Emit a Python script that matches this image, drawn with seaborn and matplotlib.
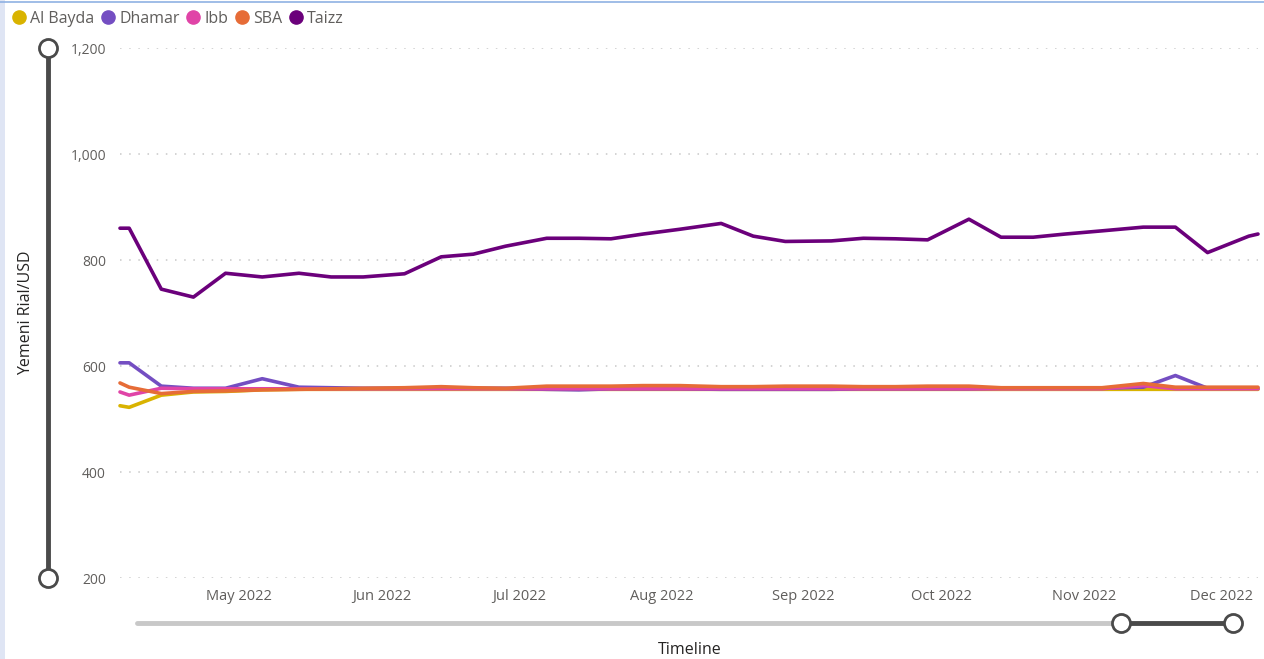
import pandas as pd
import seaborn as sns
import matplotlib.pyplot as plt
import matplotlib.dates as mdates
from matplotlib.lines import Line2D
from matplotlib.patches import Rectangle
from matplotlib.ticker import FuncFormatter

sns.set_style("white")
plt.rcParams['font.family'] = ['Open Sans', 'DejaVu Sans']

# weekly observation dates (2022)
dates = ["2022-04-05", "2022-04-07", "2022-04-14", "2022-04-21", "2022-04-28",
         "2022-05-06", "2022-05-14", "2022-05-21", "2022-05-28", "2022-06-06",
         "2022-06-14", "2022-06-21", "2022-06-28", "2022-07-07", "2022-07-14",
         "2022-07-21", "2022-07-28", "2022-08-05", "2022-08-14", "2022-08-21",
         "2022-08-28", "2022-09-07", "2022-09-14", "2022-09-21", "2022-09-28",
         "2022-10-07", "2022-10-14", "2022-10-21", "2022-10-28", "2022-11-05",
         "2022-11-14", "2022-11-21", "2022-11-28", "2022-12-07", "2022-12-09"]

al_bayda = [525, 522, 545, 551, 552, 555, 556, 556, 556, 556,
            556, 556, 556, 556, 556, 556, 556, 556, 556, 556,
            556, 556, 556, 556, 556, 556, 556, 556, 556, 556,
            556, 556, 556, 556, 556]
dhamar = [606, 606, 562, 558, 558, 576, 560, 559, 558, 558,
          558, 558, 558, 556, 555, 557, 557, 557, 556, 556,
          556, 556, 557, 557, 557, 557, 558, 558, 558, 558,
          560, 582, 558, 558, 558]
ibb = [551, 545, 558, 557, 557, 557, 557, 557, 557, 557,
       557, 557, 557, 557, 557, 557, 557, 557, 557, 557,
       557, 557, 557, 557, 557, 557, 557, 557, 557, 557,
       563, 557, 557, 557, 557]
sba = [568, 560, 548, 552, 553, 555, 556, 557, 558, 559,
       561, 559, 558, 562, 562, 562, 563, 563, 561, 561,
       562, 562, 561, 561, 562, 562, 559, 559, 559, 559,
       567, 560, 560, 560, 560]
taizz = [860, 860, 745, 730, 775, 768, 775, 768, 768, 774,
         806, 811, 826, 841, 841, 840, 849, 858, 869, 845,
         835, 836, 841, 840, 838, 877, 843, 843, 849, 855,
         862, 862, 814, 845, 849]

cities = ["Al Bayda", "Dhamar", "Ibb", "SBA", "Taizz"]
colors = ["#D9B300", "#744EC2", "#E044A7", "#E66C37", "#6B007B"]

series = dict(zip(cities, [al_bayda, dhamar, ibb, sba, taizz]))
df = pd.concat([pd.DataFrame({"date": pd.to_datetime(dates), "value": v, "city": c})
                for c, v in series.items()], ignore_index=True)

W, H = 1264, 659
fig = plt.figure(figsize=(W / 100, H / 100), dpi=100)
ax = fig.add_axes([120 / W, 1 - 578 / H, (1258 - 120) / W, (578 - 48) / H])

sns.lineplot(data=df, x="date", y="value", hue="city", hue_order=cities,
             palette=colors, linewidth=2.6, ax=ax, legend=False, clip_on=False)

ax.set_ylim(200, 1200)
ax.set_yticks([200, 400, 600, 800, 1000, 1200])
ax.yaxis.set_major_formatter(FuncFormatter(lambda v, p: f"{int(v):,}"))
ax.set_xlim(pd.Timestamp("2022-04-05"), pd.Timestamp("2022-12-09"))
ax.xaxis.set_major_locator(mdates.MonthLocator(bymonth=range(5, 13)))
ax.xaxis.set_major_formatter(mdates.DateFormatter("%b %Y"))

ax.grid(axis="y", color="#c8c8c8", linestyle=(0, (1, 5)), linewidth=1.1)
ax.grid(axis="x", visible=False)
for s in ax.spines.values():
    s.set_visible(False)
ax.tick_params(axis="y", length=0, pad=10, labelsize=10, labelcolor="#605E5C")
ax.tick_params(axis="x", length=0, pad=8, labelsize=10.5, labelcolor="#605E5C")
ax.set_xlabel("")
ax.set_ylabel("")

# legend
handles = [Line2D([], [], marker="o", linestyle="", markersize=9.5,
                  markerfacecolor=c, markeredgecolor=c) for c in colors]
fig.legend(handles, cities, loc="upper left", bbox_to_anchor=(11 / W, 1 - 11 / H),
           ncol=5, frameon=False, handletextpad=0.2, columnspacing=0.35,
           handlelength=1.0, borderaxespad=0, borderpad=0,
           prop={"size": 11.5}, labelcolor="#605E5C")

# axis titles
fig.text(26 / W, 1 - 313 / H, "Yemeni Rial/USD", rotation=90, ha="center",
         va="center", fontsize=11.5, color="#252423")
fig.text(690 / W, 1 - 650 / H, "Timeline", ha="center", va="center",
         fontsize=11.5, color="#252423")

# page border
fig.add_artist(Rectangle((0, 0), 5 / W, 1, transform=fig.transFigure,
                         facecolor="#dfe5f4", edgecolor="none"))
fig.add_artist(Line2D([0, 1], [1 - 2 / H, 1 - 2 / H], transform=fig.transFigure,
                      color="#8fb1e3", linewidth=1.2))


def px(x, y):
    return x / W, 1 - y / H


# y zoom slider
(x0, y0), (x1, y1) = px(48, 48), px(48, 578)
fig.add_artist(Line2D([x0, x1], [y0, y1], transform=fig.transFigure,
                      color="#4a4a4a", linewidth=3.5, solid_capstyle="butt"))
for yy in (48, 578):
    a, b = px(48, yy)
    fig.add_artist(Line2D([a], [b], transform=fig.transFigure, marker="o",
                          markersize=13, markerfacecolor="white",
                          markeredgecolor="#4a4a4a", markeredgewidth=2))

# x scroll bar
(a0, b0), (a1, b1), (a2, b2) = px(137, 623), px(1121, 623), px(1233, 623)
fig.add_artist(Line2D([a0, a1], [b0, b1], transform=fig.transFigure,
                      color="#c8c8c8", linewidth=3.5, solid_capstyle="round"))
fig.add_artist(Line2D([a1, a2], [b1, b2], transform=fig.transFigure,
                      color="#4a4a4a", linewidth=3.5))
for xx in (1121, 1233):
    a, b = px(xx, 623)
    fig.add_artist(Line2D([a], [b], transform=fig.transFigure, marker="o",
                          markersize=13, markerfacecolor="white",
                          markeredgecolor="#4a4a4a", markeredgewidth=2))

fig.savefig("out.png", dpi=100)
